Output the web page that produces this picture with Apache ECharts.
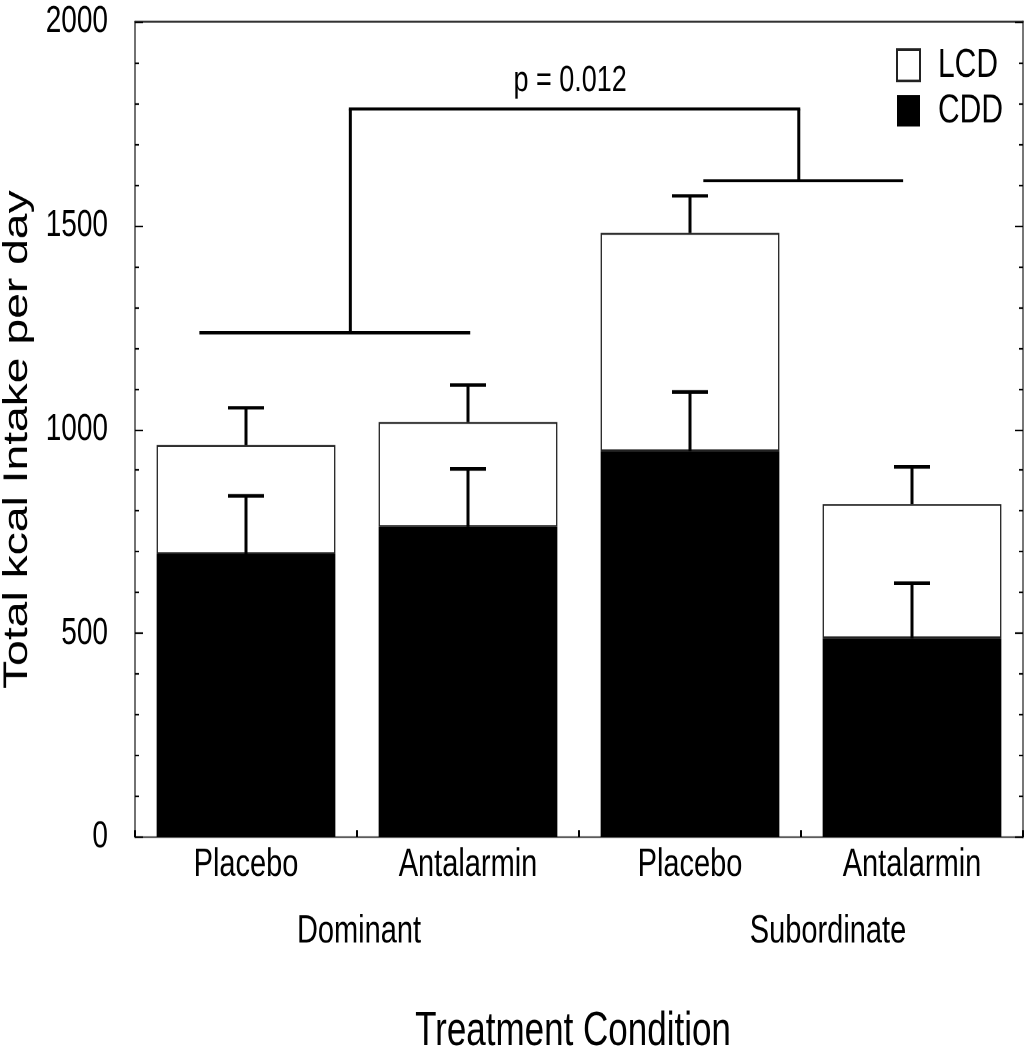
<!DOCTYPE html>
<html>
<head>
<meta charset="utf-8">
<script src="https://cdn.jsdelivr.net/npm/echarts@6/dist/echarts.min.js"></script>
<style>
html,body{margin:0;padding:0;background:#fff;overflow:hidden;}
#wrap{width:1026px;height:1050px;overflow:hidden;}
/* the reference picture is stretched vertically; reproduce that stretch */
#c{width:1026px;height:772px;transform:scaleY(1.36);transform-origin:0 0;}
</style>
</head>
<body>
<div id="wrap"><div id="c"></div></div>
<script>
const categories = ['Placebo', 'Antalarmin', 'Placebo', 'Antalarmin'];
const groupLabels = ['Dominant', 'Subordinate'];
const cddMean = [694, 761, 947, 488];
const lcdMean = [268, 257, 535, 329];
const cddSem = [143, 142, 145, 135];
const totalSem = [91, 91, 91, 91];
const yMin = 0, yMax = 2000, yInterval = 500;
const pText = 'p = 0.012';
// significance bracket in data units (x: 0..4 over the category span)
const bracketLower = [
  { x0: 0.29, x1: 1.51, y: 1237, stem: 0.97 },
  { x0: 2.56, x1: 3.46, y: 1610, stem: 2.99 }
];
const bracketTopY = 1786;
const pTextPos = [1.96, 1854];

const FONT = '"Liberation Sans", Arial, Helvetica, sans-serif';

const errData = [];
for (let i = 0; i < categories.length; i++) {
  const total = cddMean[i] + lcdMean[i];
  errData.push([i, cddMean[i], cddMean[i] + cddSem[i]]);
  errData.push([i, total, total + totalSem[i]]);
}

const chart = echarts.init(document.getElementById('c'), null, { renderer: 'canvas', devicePixelRatio: 2 });
chart.setOption({
  animation: false,
  backgroundColor: '#fff',
  textStyle: { fontFamily: FONT },
  grid: { left: 135, right: 3, top: 16, bottom: 156.5, containLabel: false, outerBoundsMode: 'none' },
  legend: {
    data: ['LCD', 'CDD'],
    orient: 'vertical',
    left: 891, top: 28,
    itemWidth: 23, itemHeight: 23, itemGap: 3.5,
    icon: 'rect',
    textStyle: { fontSize: 30, color: '#000', fontFamily: FONT, padding: [0, 0, 0, 13] }
  },
  xAxis: [
    {
      type: 'category', data: categories, position: 'bottom',
      axisLine: { show: true, lineStyle: { color: '#555', width: 1.2 } },
      axisTick: { show: true, inside: true, length: 5, lineStyle: { color: '#000', width: 2 } },
      axisLabel: { fontSize: 29, color: '#000', margin: 6, fontFamily: FONT },
      splitLine: { show: false }
    },
    {
      type: 'value', min: 0, max: 4, position: 'top',
      axisLine: { show: true, onZero: false, lineStyle: { color: '#333', width: 1.6 } },
      axisTick: { show: false }, axisLabel: { show: false }, splitLine: { show: false }
    }
  ],
  yAxis: [
    {
      type: 'value', min: yMin, max: yMax, interval: yInterval, position: 'left',
      axisLine: { show: true, lineStyle: { color: '#444', width: 1.5 } },
      axisTick: { show: true, inside: true, length: 8, lineStyle: { color: '#000', width: 1.2 } },
      minorTick: { show: true, splitNumber: 5, length: 4, lineStyle: { color: '#000', width: 1.2 } },
      axisLabel: { fontSize: 28, color: '#000', margin: 27, fontFamily: FONT, formatter: function (v) { return String(v); } },
      splitLine: { show: false },
      name: 'Total kcal Intake per day', nameLocation: 'middle', nameGap: 98,
      nameTextStyle: { fontSize: 34, color: '#000', fontFamily: FONT, padding: [0, 15, 0, 0] }
    },
    {
      type: 'value', min: yMin, max: yMax, interval: yInterval, position: 'right',
      axisLine: { show: true, lineStyle: { color: '#777', width: 2 } },
      axisTick: { show: true, inside: true, length: 8, lineStyle: { color: '#000', width: 1.2 } },
      minorTick: { show: true, splitNumber: 5, length: 4, lineStyle: { color: '#000', width: 1.2 } },
      axisLabel: { show: false }, splitLine: { show: false }
    }
  ],
  graphic: [
    { type: 'text', x: 359, y: 685, style: { text: groupLabels[0], font: '29px ' + FONT, fill: '#000', align: 'center', verticalAlign: 'middle' } },
    { type: 'text', x: 828, y: 685, style: { text: groupLabels[1], font: '29px ' + FONT, fill: '#000', align: 'center', verticalAlign: 'middle' } },
    { type: 'text', x: 573, y: 759, style: { text: 'Treatment Condition', font: '35px ' + FONT, fill: '#000', align: 'center', verticalAlign: 'middle' } }
  ],
  series: [
    {
      name: 'CDD', type: 'bar', stack: 'kcal', data: cddMean, barWidth: '80.5%',
      itemStyle: { color: '#000', borderColor: '#000', borderWidth: 0 },
      z: 2
    },
    {
      name: 'LCD', type: 'bar', stack: 'kcal', data: lcdMean, barWidth: '80.5%',
      itemStyle: { color: '#fff', borderColor: '#222', borderWidth: 1.3 },
      z: 2
    },
    {
      type: 'custom', name: 'err', data: errData, z: 5,
      renderItem: function (params, api) {
        const i = api.value(0);
        const base = api.coord([i, api.value(1)]);
        const top = api.coord([i, api.value(2)]);
        const cap = 18;
        return {
          type: 'group',
          children: [
            { type: 'line', shape: { x1: base[0], y1: base[1], x2: top[0], y2: top[1] }, style: { stroke: '#000', lineWidth: 3 } },
            { type: 'line', shape: { x1: top[0] - cap, y1: top[1], x2: top[0] + cap, y2: top[1] }, style: { stroke: '#000', lineWidth: 2.6 } }
          ]
        };
      }
    },
    {
      type: 'custom', name: 'bracket', xAxisIndex: 1, yAxisIndex: 0, data: [[0]], z: 6, clip: false,
      renderItem: function (params, api) {
        const children = [];
        const tops = [];
        bracketLower.forEach(function (b) {
          const a = api.coord([b.x0, b.y]);
          const c = api.coord([b.x1, b.y]);
          const s0 = api.coord([b.stem, b.y]);
          const s1 = api.coord([b.stem, bracketTopY]);
          tops.push(s1);
          children.push({ type: 'line', shape: { x1: a[0], y1: a[1], x2: c[0], y2: c[1] }, style: { stroke: '#000', lineWidth: 2.3 } });
          children.push({ type: 'line', shape: { x1: s0[0], y1: s0[1], x2: s1[0], y2: s1[1] }, style: { stroke: '#000', lineWidth: 3 } });
        });
        children.push({ type: 'line', shape: { x1: tops[0][0] - 1.5, y1: tops[0][1], x2: tops[1][0] + 1.5, y2: tops[1][1] }, style: { stroke: '#000', lineWidth: 2.3 } });
        const tp = api.coord(pTextPos);
        children.push({ type: 'text', x: tp[0], y: tp[1], style: { text: pText, font: '27px ' + FONT, fill: '#000', align: 'center', verticalAlign: 'middle' } });
        return { type: 'group', children: children };
      }
    }
  ]
});
</script>
</body>
</html>
